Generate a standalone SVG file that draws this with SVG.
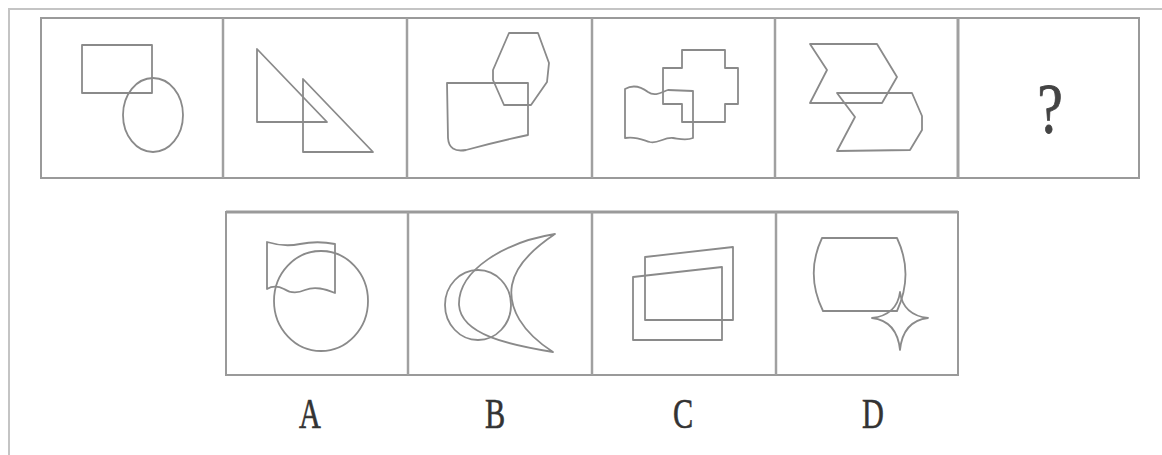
<svg xmlns="http://www.w3.org/2000/svg" width="1162" height="455" viewBox="0 0 1162 455">
<style>
.frame{fill:none;stroke:#c4c4c4;stroke-width:2}
.box{fill:none;stroke:#9a9a9a;stroke-width:2}
.div{stroke:#a0a0a0;stroke-width:2.5}
.sh{fill:none;stroke:#8a8a8a;stroke-width:1.8;stroke-linejoin:round}
.lbl{font-family:"Liberation Serif","Times New Roman",serif;font-size:42px;fill:#333;stroke:#333;stroke-width:0.6;text-anchor:middle}
.q{font-family:"Liberation Serif","Times New Roman",serif;font-size:72px;fill:#444;stroke:#444;stroke-width:0.8;text-anchor:middle}
</style>
<rect width="1162" height="455" fill="#fff"/>
<path class="frame" d="M9,455 V9 H1162"/>
<g id="top-row">
<rect class="box" x="41" y="18" width="1098" height="160"/>
<line class="div" x1="223" y1="18" x2="223" y2="178"/>
<line class="div" x1="407" y1="18" x2="407" y2="178"/>
<line class="div" x1="592" y1="18" x2="592" y2="178"/>
<line class="div" x1="775" y1="18" x2="775" y2="178"/>
<line class="div" x1="958" y1="18" x2="958" y2="178" style="stroke-width:3"/>
</g>
<g id="panel-1">
<rect class="sh" x="82" y="45" width="70" height="48"/>
<ellipse class="sh" cx="153" cy="115" rx="30" ry="37"/>
</g>
<g id="panel-2">
<polygon class="sh" points="257,49 257,122 327,122"/>
<polygon class="sh" points="303,79 303,152 373,152"/>
</g>
<g id="panel-3">
<polygon class="sh" points="509,33 538,33 549,63 547,82 531,105 504,105 493,80 493,70"/>
<path class="sh" d="M447,83 H528 V135 Q495,142 466,150 Q449,153 448,138 Z"/>
</g>
<g id="panel-4">
<path class="sh" d="M682,50 H725 V68 H738 V104 H725 V122 H682 V104 H663 V68 H682 Z"/>
<path class="sh" d="M625,89 C632,85 640,86 648,92 C655,97 662,92 668,90 L693,91 V138 C686,141 680,139 673,138 C664,137 658,144 650,142 C643,140 636,136 625,138 Z"/>
</g>
<g id="panel-5">
<polygon class="sh" points="810,44 877,44 897,77 882,103 810,103 827,70"/>
<polygon class="sh" points="837,93 912,93 922,116 922,130 910,150 837,151 855,117"/>
</g>
<g id="panel-6">
<text class="q" transform="translate(1050,133) scale(0.8,1)">?</text>
</g>
<g id="bottom-row">
<rect class="box" x="226" y="212" width="732" height="163"/>
<line class="box" x1="226" y1="212" x2="958" y2="212" style="stroke-width:3"/>
<line class="div" x1="408" y1="212" x2="408" y2="375"/>
<line class="div" x1="592" y1="212" x2="592" y2="375"/>
<line class="div" x1="776" y1="212" x2="776" y2="375"/>
</g>
<g id="option-A">
<ellipse class="sh" cx="321" cy="301" rx="47" ry="50"/>
<path class="sh" d="M267,242 C280,246 290,246 300,244 C310,242 320,241 335,244 V293 C325,289 315,286 305,290 C296,294 290,293 284,289 C278,286 272,286 267,289 Z"/>
</g>
<g id="option-B">
<ellipse class="sh" cx="478" cy="305" rx="33" ry="35"/>
<path class="sh" d="M555,234 C505,242 458,270 459,305 C461,335 510,345 553,352 C522,332 508,308 512,285 C516,262 540,244 555,234 Z"/>
</g>
<g id="option-C">
<polygon class="sh" points="645,257 733,247 733,320 645,320"/>
<polygon class="sh" points="633,277 722,267 722,340 633,340"/>
</g>
<g id="option-D">
<path class="sh" d="M822,238 H897 Q914,274 897,311 H823 Q805,274 822,238 Z"/>
<path class="sh" d="M900,292 Q903,315 928,318 Q903,321 900,350 Q897,321 872,318 Q897,315 900,292 Z"/>
</g>
<g id="labels">
<text class="lbl" transform="translate(310,428) scale(0.72,1)">A</text>
<text class="lbl" transform="translate(495,428) scale(0.72,1)">B</text>
<text class="lbl" transform="translate(683,428) scale(0.72,1)">C</text>
<text class="lbl" transform="translate(873,428) scale(0.72,1)">D</text>
</g>
</svg>
